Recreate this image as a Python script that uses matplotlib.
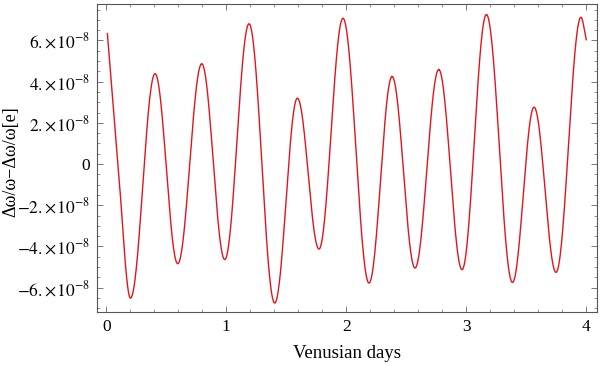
import numpy as np
import matplotlib
matplotlib.use("Agg")
import matplotlib.pyplot as plt
from matplotlib.ticker import FixedLocator, MultipleLocator, FuncFormatter

# ---- data (time in Venusian days, value in units of 1e-8) ----
t_pts = [0.01, 0.098, 0.202, 0.407, 0.596, 0.796, 0.988, 1.19, 1.404, 1.593, 1.773,
         1.973, 2.19, 2.382, 2.573, 2.771, 2.965, 3.168, 3.385, 3.565, 3.748, 3.956, 4.0]
v_pts = [6.33, 0.0, -6.51, 4.39, -4.84, 4.87, -4.64, 6.81, -6.75, 3.20, -4.13,
         7.08, -5.78, 4.25, -5.05, 4.59, -5.13, 7.26, -5.75, 2.76, -5.26, 7.13, 6.04]
scale = 1e-8

xticks = [0, 1, 2, 3, 4]
yticks = [-6, -4, -2, 0, 2, 4, 6]

plt.rcParams['font.family'] = ['Liberation Serif', 'DejaVu Serif']
plt.rcParams['mathtext.fontset'] = 'stix'

t = np.array(t_pts)
v = np.array(v_pts)
n = len(t)
# extrema flags and slopes for a smooth Hermite rendering through the read points
is_ext = np.zeros(n, bool)
m = np.zeros(n)
for i in range(n):
    if 0 < i < n - 1 and (v[i] - v[i-1]) * (v[i+1] - v[i]) < 0:
        is_ext[i] = True
        m[i] = 0.0
    elif i == 0:
        m[i] = (v[1] - v[0]) / (t[1] - t[0])
    elif i == n - 1:
        m[i] = (v[-1] - v[-2]) / (t[-1] - t[-2])
    else:
        m[i] = (v[i+1] - v[i-1]) / (t[i+1] - t[i-1])

xs, ys = [], []
for i in range(n - 1):
    s = np.linspace(0, 1, 60)
    h = t[i+1] - t[i]
    if is_ext[i] and is_ext[i+1]:
        y = v[i] + (v[i+1] - v[i]) * (1 - np.cos(np.pi * s)) / 2
    else:
        h00 = 2*s**3 - 3*s**2 + 1
        h10 = s**3 - 2*s**2 + s
        h01 = -2*s**3 + 3*s**2
        h11 = s**3 - s**2
        y = h00*v[i] + h10*h*m[i] + h01*v[i+1] + h11*h*m[i+1]
    xs.append(t[i] + s*h)
    ys.append(y)
xs = np.concatenate(xs)
ys = np.concatenate(ys) * scale

fig = plt.figure(figsize=(6.0, 3.66), dpi=100)
ax = fig.add_axes([0.161, 0.1467, 0.8335, 0.8423])
ax.plot(xs, ys, color='#e3141b', lw=1.0)

ax.set_xlim(-0.08, 4.087)
ax.set_ylim(-7.2e-8, 7.77e-8)

ax.xaxis.set_major_locator(FixedLocator(xticks))
ax.xaxis.set_minor_locator(MultipleLocator(0.2))
ax.yaxis.set_major_locator(FixedLocator([y*scale for y in yticks]))
ax.yaxis.set_minor_locator(MultipleLocator(0.5e-8))

def yfmt(val, pos):
    k = int(round(val / scale))
    if k == 0:
        return "0"
    sign = "-" if k < 0 else ""
    return r"$%s%d.\!\times\!10^{-8}$" % (sign, abs(k))

ax.yaxis.set_major_formatter(FuncFormatter(yfmt))
ax.xaxis.set_major_formatter(FuncFormatter(lambda x, p: "%d" % round(x)))

for side in ax.spines.values():
    side.set_color('#555555')
    side.set_linewidth(0.8)
ax.tick_params(which='both', direction='in', top=True, right=True, color='#666666',
               labelsize=12.5, labelcolor='black')
ax.tick_params(which='major', length=4, width=0.6, pad=5)
ax.tick_params(which='minor', length=2.2, width=0.5)

ax.set_xlabel("Venusian days", fontsize=13.5)
ax.xaxis.set_label_coords(0.5, -0.105)
ax.set_ylabel("Δω/ω−Δω/ω[e]", fontsize=13)
ax.yaxis.set_label_coords(-0.154, 0.49)

fig.savefig("out.png", dpi=100)
